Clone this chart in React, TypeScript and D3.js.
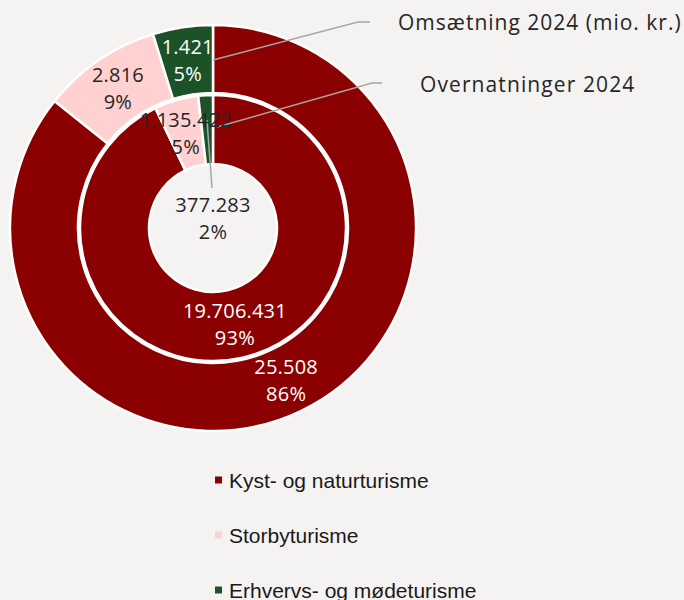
import React, { useEffect } from "react";
import * as d3 from "d3";

const categories = ["Kyst- og naturturisme", "Storbyturisme", "Erhvervs- og mødeturisme"];
const colors = ["#8b0000", "#ffd1d1", "#1d5228"];

// Omsætning 2024 (mio. kr.) - outer ring
const revenue = [25508, 2816, 1421];
const revenueLabels = ["25.508", "2.816", "1.421"];
const revenuePct = ["86%", "9%", "5%"];

// Overnatninger 2024 - inner ring
const nights = [19706431, 1135422, 377283];
const nightsLabels = ["19.706.431", "1.135.422", "377.283"];
const nightsPct = ["93%", "5%", "2%"];

const seriesNames = ["Omsætning 2024 (mio. kr.)", "Overnatninger 2024"];

const W = 684;
const H = 600;
const cx = 213;
const cy = 228;
const rHole = 64;
const rInnerOut = 133;
const rOuterIn = 135;
const rOuterOut = 203;
const bg = "#f4f3f1";
const labelFont = "'Open Sans', sans-serif";
const textDark = "#262626";
const leader = "#a6a6a6";

export default function App() {
  useEffect(() => {
    document.body.style.margin = "0";
    document.body.style.background = bg;
  }, []);

  const pie = d3.pie<number>().sort(null).value(d => d);
  const outerArcs = pie(revenue);
  const innerArcs = pie(nights);

  const outerArc = d3.arc<d3.PieArcDatum<number>>().innerRadius(rOuterIn).outerRadius(rOuterOut);
  const innerArc = d3.arc<d3.PieArcDatum<number>>().innerRadius(rHole).outerRadius(rInnerOut);

  const polar = (a: number, r: number) => [Math.sin(a) * r, -Math.cos(a) * r];

  const lineH = 27;
  const labelSize = 20;

  const twoLine = (x: number, y: number, a: string, b: string, fill: string, key: string) => (
    <text key={key} x={x} y={y} textAnchor="middle" fontFamily={labelFont} fontSize={labelSize} fill={fill} letterSpacing={0.2}>
      <tspan x={x} dy={-lineH / 2 + 7}>{a}</tspan>
      <tspan x={x} dy={lineH}>{b}</tspan>
    </text>
  );

  // small inner slice: label moved to the hole with a leader
  const smallInner = innerArcs[2];
  const smallMidA = (smallInner.startAngle + smallInner.endAngle) / 2;
  const [sx, sy] = polar(smallMidA, 108);
  const smallLabelY = -10;

  // series name leaders
  const [ox, oy] = polar(0, (rOuterIn + rOuterOut) / 2 - 1);
  const [ix, iy] = polar(0.04, 101);

  const legendY = [480, 535, 590];

  return (
    <svg width={W} height={H} style={{ display: "block", background: bg }}>
      <rect width={W} height={H} fill={bg} />
      <g transform={`translate(${cx},${cy})`}>
        {outerArcs.map((d, i) => (
          <path key={"o" + i} d={outerArc(d) || ""} fill={colors[i]} stroke="#ffffff" strokeWidth={2.5} />
        ))}
        {innerArcs.map((d, i) => (
          <path key={"i" + i} d={innerArc(d) || ""} fill={colors[i]} stroke="#ffffff" strokeWidth={2.5} />
        ))}

        {/* leader for small inner slice */}
        <line x1={sx} y1={sy} x2={-1} y2={smallLabelY - 30} stroke={leader} strokeWidth={1.5} />

        {/* series name leaders */}
        <polyline
          points={`${ox},${oy} ${358 - cx},${22 - cy} ${370 - cx},${22 - cy}`}
          fill="none" stroke={leader} strokeWidth={1.5}
        />
        <polyline
          points={`${ix},${iy} ${372 - cx},${83 - cy} ${382 - cx},${83 - cy}`}
          fill="none" stroke={leader} strokeWidth={1.5}
        />

        {outerArcs.map((d, i) => {
          const [x, y] = outerArc.centroid(d);
          return twoLine(x, y, revenueLabels[i], revenuePct[i], i === 1 ? textDark : "#ffffff", "ol" + i);
        })}
        {innerArcs.map((d, i) => {
          if (i === 2) return twoLine(0, smallLabelY, nightsLabels[i], nightsPct[i], textDark, "il" + i);
          const [x, y] = innerArc.centroid(d);
          return twoLine(x, y, nightsLabels[i], nightsPct[i], i === 1 ? textDark : "#ffffff", "il" + i);
        })}
      </g>

      <text x={398} y={30} fontFamily={labelFont} fontSize={21} fill={textDark} letterSpacing={1}>{seriesNames[0]}</text>
      <text x={420} y={92} fontFamily={labelFont} fontSize={21} fill={textDark} letterSpacing={1.1}>{seriesNames[1]}</text>

      {categories.map((c, i) => (
        <g key={c} transform={`translate(215,${legendY[i]})`}>
          <rect x={0} y={-3.5} width={7} height={7} fill={colors[i]} />
          <text x={14} y={7.5} fontFamily="'Liberation Sans', Arial, sans-serif" fontSize={21} fill="#1a1a1a">{c}</text>
        </g>
      ))}
    </svg>
  );
}
